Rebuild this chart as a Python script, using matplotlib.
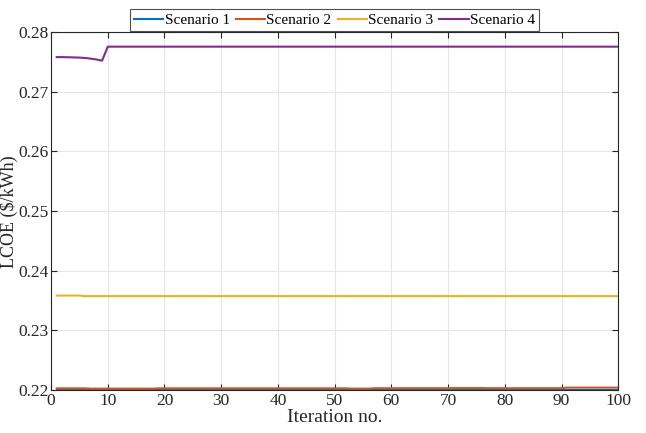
import numpy as np
import matplotlib
matplotlib.use('Agg')
import matplotlib.pyplot as plt

# iteration numbers
iterations = list(range(1, 101))

# LCOE values ($/kWh)
scenario1 = [0.22005] * 100
scenario2 = ([0.22030] * 6 + [0.22025] * 12 + [0.22030] * 34 + [0.22025] * 4
             + [0.22032] * 14 + [0.22035] * 6 + [0.22032] * 14 + [0.22042] * 10)
scenario3 = [0.23585] * 5 + [0.23575] * 95
scenario4 = ([0.27580, 0.27580, 0.27578, 0.27575, 0.27572, 0.27565, 0.27555, 0.27540, 0.27520]
             + [0.27755] * 91)

series = [scenario1, scenario2, scenario3, scenario4]
labels = ['Scenario 1', 'Scenario 2', 'Scenario 3', 'Scenario 4']
colors = ['#0072BD', '#D95319', '#EDB120', '#7E2F8E']

xticks = list(range(0, 101, 10))
yticks = [0.22, 0.23, 0.24, 0.25, 0.26, 0.27, 0.28]

plt.rcParams['font.family'] = ['Liberation Serif', 'DejaVu Serif']

fig = plt.figure(figsize=(6.46, 4.33), dpi=100)
ax = fig.add_axes([0.079, 0.099, 0.878, 0.827])

for y, lab, c in zip(series, labels, colors):
    ax.plot(iterations, y, color=c, linewidth=1.5, label=lab)

ax.set_xlim(0, 100)
ax.set_ylim(0.22, 0.28)
ax.set_xticks(xticks)
ax.set_yticks(yticks)
ax.set_yticklabels(['%.2f' % v for v in yticks])
ax.grid(True, color='#e6e6e6', linewidth=0.8)
ax.set_axisbelow(True)
ax.tick_params(direction='in', top=True, right=True, labelsize=12.5, length=4,
               color='#262626', labelcolor='#262626', pad=2)
for s in ax.spines.values():
    s.set_color('#262626')
    s.set_linewidth(0.8)

ax.set_xlabel('Iteration no.', fontsize=14, labelpad=0, color='#262626')
fig.text(0.0, 0.51, 'LCOE ($/kWh)', rotation=90, fontsize=13, va='center', ha='left',
         color='#262626')

leg = ax.legend(loc='lower center', bbox_to_anchor=(0.5, 0.995), ncol=4, fontsize=11,
                frameon=True, fancybox=False, edgecolor='#262626',
                handlelength=1.9, handletextpad=0.1, columnspacing=0.4,
                borderpad=0.25, borderaxespad=0.2)
leg.get_frame().set_linewidth(0.8)

plt.savefig('out.png', dpi=100)
plt.close()
